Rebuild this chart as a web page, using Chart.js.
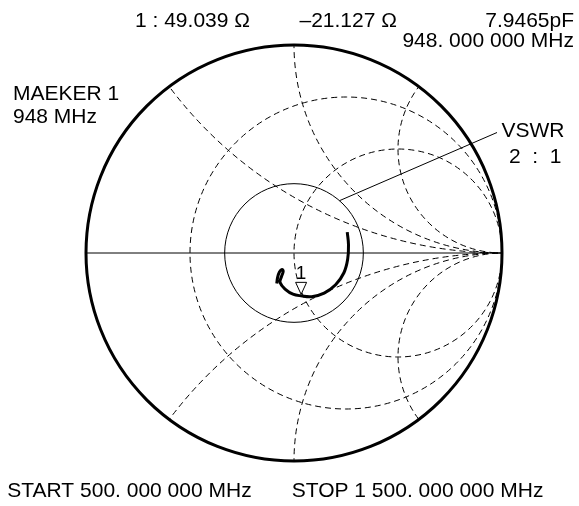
<!DOCTYPE html>
<html>
<head>
<meta charset="utf-8">
<script src="https://cdn.jsdelivr.net/npm/chart.js@4.4.1/dist/chart.umd.min.js"></script>
<style>
html, body { margin: 0; padding: 0; background: #fff; }
canvas { display: block; }
</style>
</head>
<body>
<canvas id="smith" width="579" height="506"></canvas>
<script>
// Reference impedance and marker readout
const Z0 = 50;
const markerLabel = '1';
const markerResistance = 49.039;   // ohms
const markerReactance = -21.127;   // ohms
const markerCapacitance = '7.9465pF';
const markerFreq = '948. 000 000 MHz';
const markerFreqShort = '948 MHz';

// Sweep limits
const sweepStart = 'START 500. 000 000 MHz';
const sweepStop = 'STOP 1 500. 000 000 MHz';

// Reflection coefficient along the sweep (real and imaginary parts)
const traceRe = [0.256, 0.262, 0.258, 0.240, 0.200, 0.145, 0.085, 0.034, -0.005, -0.040, -0.067, -0.060, -0.052, -0.058, -0.070, -0.079, -0.083];
const traceIm = [0.100, 0.040, -0.030, -0.095, -0.153, -0.193, -0.210, -0.206, -0.198, -0.176, -0.142, -0.113, -0.089, -0.079, -0.091, -0.118, -0.147];

// Smith grid: constant-resistance circles and constant-reactance arcs (normalised)
const resistanceCircles = [1 / 3, 1];
const reactanceArcs = [0.5, 1, 2, -0.5, -1, -2];
const vswrRatio = 2;

// normalised impedance -> reflection coefficient
function toGamma(r, x) {
  const den = (r + 1) * (r + 1) + x * x;
  return { re: (r * r + x * x - 1) / den, im: (2 * x) / den };
}
const markerGamma = toGamma(markerResistance / Z0, markerReactance / Z0);

const FONT = '"Liberation Sans", Arial, Helvetica, sans-serif';

const smithGrid = {
  id: 'smithGrid',
  beforeDatasetsDraw(chart) {
    const { ctx, scales: { x: sx, y: sy } } = chart;
    const px = v => sx.getPixelForValue(v);
    const py = v => sy.getPixelForValue(v);
    const k = px(1) - px(0);
    const cx = px(0), cy = py(0);
    ctx.save();
    ctx.beginPath();
    ctx.arc(cx, cy, k, 0, Math.PI * 2);
    ctx.clip();
    ctx.strokeStyle = '#000';
    ctx.lineWidth = 1;
    ctx.setLineDash([6, 4]);
    resistanceCircles.forEach(r => {
      ctx.beginPath();
      ctx.arc(px(r / (1 + r)), cy, k / (1 + r), 0, Math.PI * 2);
      ctx.stroke();
    });
    reactanceArcs.forEach(x => {
      ctx.beginPath();
      ctx.arc(px(1), py(1 / x), k / Math.abs(x), 0, Math.PI * 2);
      ctx.stroke();
    });
    ctx.setLineDash([]);
    // real axis
    ctx.beginPath();
    ctx.moveTo(px(-1), cy);
    ctx.lineTo(px(1), cy);
    ctx.stroke();
    // VSWR circle
    const g = (vswrRatio - 1) / (vswrRatio + 1);
    ctx.beginPath();
    ctx.arc(cx, cy, k * g, 0, Math.PI * 2);
    ctx.stroke();
    ctx.restore();

    // leader line to the VSWR caption
    ctx.save();
    ctx.strokeStyle = '#000';
    ctx.lineWidth = 1;
    const a = 49 * Math.PI / 180;
    ctx.beginPath();
    ctx.moveTo(px(g * Math.cos(a)), py(g * Math.sin(a)));
    ctx.lineTo(497, 132.5);
    ctx.stroke();
    // outer boundary
    ctx.lineWidth = 3;
    ctx.beginPath();
    ctx.arc(cx, cy, k, 0, Math.PI * 2);
    ctx.stroke();
    ctx.restore();
  },
  afterDatasetsDraw(chart) {
    const { ctx, scales: { x: sx, y: sy } } = chart;
    const mx = sx.getPixelForValue(markerGamma.re);
    const my = sy.getPixelForValue(markerGamma.im);
    ctx.save();
    // marker triangle
    ctx.beginPath();
    ctx.moveTo(mx, my - 1.5);
    ctx.lineTo(mx - 5.5, my - 13.5);
    ctx.lineTo(mx + 5.5, my - 13.5);
    ctx.closePath();
    ctx.fillStyle = '#fff';
    ctx.fill();
    ctx.strokeStyle = '#000';
    ctx.lineWidth = 1;
    ctx.stroke();
    ctx.fillStyle = '#000';
    ctx.textBaseline = 'alphabetic';
    ctx.textAlign = 'center';
    ctx.font = '19px ' + FONT;
    ctx.fillText(markerLabel, mx, my - 17);

    // readouts
    ctx.font = '21px ' + FONT;
    ctx.textAlign = 'left';
    ctx.fillText(markerLabel + ' : ' + markerResistance.toFixed(3) + ' \u03A9', 135, 26.5);
    ctx.fillText('\u2013' + Math.abs(markerReactance).toFixed(3) + ' \u03A9', 299.5, 26.5);
    ctx.textAlign = 'right';
    ctx.fillText(markerCapacitance, 574, 26.5);
    ctx.fillText(markerFreq, 574, 46.5);
    ctx.textAlign = 'left';
    ctx.fillText('MAEKER ' + markerLabel, 13, 100);
    ctx.fillText(markerFreqShort, 13, 123.3);
    ctx.fillText('VSWR', 501.5, 137.3);
    ctx.fillText(vswrRatio + '  :  1', 509, 163.3);
    ctx.fillText(sweepStart, 7.3, 496.6);
    ctx.fillText(sweepStop, 291.7, 496.6);
    ctx.restore();
  }
};

new Chart(document.getElementById('smith'), {
  type: 'scatter',
  data: {
    datasets: [{
      data: traceRe.map((re, i) => ({ x: re, y: traceIm[i] })),
      showLine: true,
      borderColor: '#000',
      borderWidth: 3,
      pointRadius: 0,
      tension: 0.4,
      fill: false,
      clip: false
    }]
  },
  options: {
    responsive: false,
    animation: false,
    devicePixelRatio: 1,
    layout: { padding: { left: 86, right: 77, top: 45, bottom: 45 } },
    scales: {
      x: { type: 'linear', min: -1, max: 1, display: false },
      y: { type: 'linear', min: -1, max: 1, display: false }
    },
    plugins: { legend: { display: false }, tooltip: { enabled: false } }
  },
  plugins: [smithGrid]
});
</script>
</body>
</html>
